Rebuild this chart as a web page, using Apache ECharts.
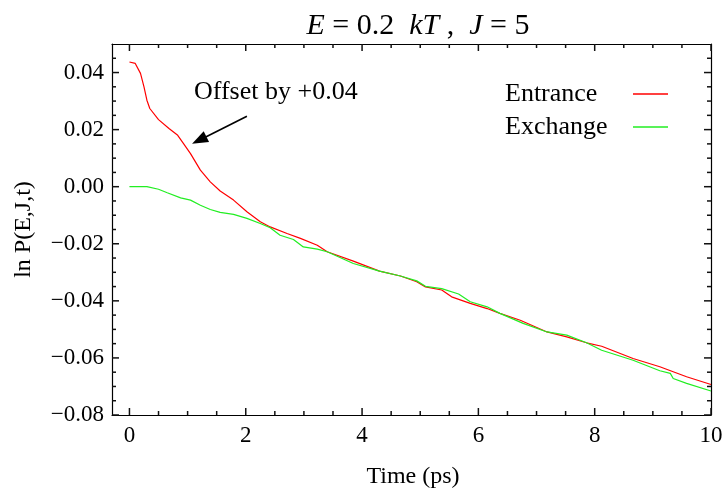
<!DOCTYPE html>
<html>
<head>
<meta charset="utf-8">
<title>ln P(E,J,t)</title>
<script src="https://cdn.jsdelivr.net/npm/echarts@6/dist/echarts.min.js"></script>
<style>
    html, body { margin: 0; padding: 0; background: #fff; }
    #chart { width: 723px; height: 489px; }
</style>
</head>
<body>
<div id="chart"></div>
<script>
// Entrance channel (curve shifted by +0.04)
const entranceT = [0, 0.1, 0.19, 0.25, 0.3, 0.35, 0.5, 0.68, 0.83, 0.93, 1.05, 1.22, 1.39, 1.56, 1.79, 2.02, 2.25, 2.42, 2.71, 2.94, 3.23, 3.4, 3.85, 4.3, 4.66, 4.94, 5.09, 5.37, 5.54, 5.86, 6.15, 6.37, 6.72, 7.18, 7.52, 7.86, 8.12, 8.66, 9.12, 9.58, 10];
const entranceY = [0.0437, 0.0432, 0.0397, 0.035, 0.0303, 0.0274, 0.0235, 0.0204, 0.018, 0.0151, 0.0116, 0.0058, 0.0017, -0.0015, -0.0047, -0.0088, -0.0123, -0.0141, -0.0164, -0.0181, -0.0205, -0.0228, -0.0261, -0.0296, -0.0313, -0.0333, -0.0351, -0.0362, -0.0386, -0.0409, -0.0427, -0.0444, -0.0468, -0.0509, -0.0526, -0.0547, -0.0559, -0.0602, -0.0631, -0.0666, -0.0693];

// Exchange channel
const exchangeT = [0, 0.3, 0.5, 0.65, 0.88, 1.05, 1.22, 1.39, 1.56, 1.79, 2.02, 2.25, 2.42, 2.59, 2.82, 2.99, 3.23, 3.4, 3.85, 4.3, 4.66, 4.94, 5.09, 5.37, 5.66, 5.86, 6.15, 6.37, 6.77, 7.18, 7.52, 7.86, 8.12, 8.66, 9.12, 9.3, 9.35, 9.58, 10];
const exchangeY = [0, 0, -0.0009, -0.0021, -0.0039, -0.0047, -0.0065, -0.008, -0.009, -0.0097, -0.0111, -0.0129, -0.0144, -0.017, -0.0185, -0.0211, -0.0219, -0.0228, -0.0269, -0.0296, -0.0313, -0.033, -0.0349, -0.0357, -0.0376, -0.0403, -0.0421, -0.0444, -0.0479, -0.0509, -0.052, -0.0547, -0.0573, -0.0608, -0.0645, -0.0654, -0.0672, -0.0689, -0.0716];

const seriesNames = ['Entrance', 'Exchange'];

// axis ranges and tick labels
const xRange = [-0.3, 10];
const yRange = [-0.08, 0.05];
const xTicks = [0, 2, 4, 6, 8, 10];
const yTicks = [-0.08, -0.06, -0.04, -0.02, 0, 0.02, 0.04];

// annotation arrow (data coords) and its text
const arrowFrom = [2.02, 0.0247];
const arrowTo = [1.2, 0.0163];
const noteText = 'Offset by +0.04';

const FONT = 'Liberation Serif';
const BLACK = '#000';
const MAJOR_LEN = 7;
const MINOR_LEN = 4;

// minor tick positions (every 0.5 on x, every 0.005 on y)
const xMinor = [];
for (let i = 1; i < 20; i++) {
    if (i % 4 !== 0) xMinor.push(i * 0.5);
}
const yMinor = [];
for (let i = -15; i < 10; i++) {
    if (i % 4 !== 0) yMinor.push(+(i * 0.005).toFixed(3));
}

function pairs(xs, ys) {
    return xs.map((x, i) => [x, ys[i]]);
}

function fmtY(v) {
    if (Math.abs(v) < 1e-9) return '0.00';
    return (v < 0 ? '\u2212' : '') + Math.abs(v).toFixed(2);
}

// tick marks: [kind (0 = x, 1 = y), value, length]
const tickData = []
    .concat(xTicks.map(v => [0, v, MAJOR_LEN]))
    .concat(xMinor.map(v => [0, v, MINOR_LEN]))
    .concat(yTicks.map(v => [1, v, MAJOR_LEN]))
    .concat(yMinor.map(v => [1, v, MINOR_LEN]));

// one tick pair (both sides of the frame), pointing inward;
// major x ticks also carry their label under the frame
function renderTick(params, api) {
    const kind = api.value(0);
    const v = api.value(1);
    const len = api.value(2);
    const style = { stroke: '#111', lineWidth: 1.5 };
    let p1, p2;
    if (kind === 0) {
        p1 = api.coord([v, yRange[0]]);
        p2 = api.coord([v, yRange[1]]);
        const children = [
            { type: 'line', shape: { x1: p1[0], y1: p1[1], x2: p1[0], y2: p1[1] - len }, style: style },
            { type: 'line', shape: { x1: p2[0], y1: p2[1], x2: p2[0], y2: p2[1] + len }, style: style }
        ];
        if (len === MAJOR_LEN) {
            children.push({
                type: 'text',
                x: p1[0],
                y: p1[1] + 9,
                style: {
                    text: String(v),
                    fill: BLACK,
                    fontFamily: FONT,
                    fontSize: 23,
                    align: 'center',
                    verticalAlign: 'top'
                }
            });
        }
        return { type: 'group', children: children };
    }
    p1 = api.coord([xRange[0], v]);
    p2 = api.coord([xRange[1], v]);
    return {
        type: 'group',
        children: [
            { type: 'line', shape: { x1: p1[0], y1: p1[1], x2: p1[0] + len, y2: p1[1] }, style: style },
            { type: 'line', shape: { x1: p2[0], y1: p2[1], x2: p2[0] - len, y2: p2[1] }, style: style }
        ]
    };
}

function frameAxis(pos, range, extra) {
    return Object.assign({
        type: 'value',
        position: pos,
        min: range[0],
        max: range[1],
        axisLine: { show: true, onZero: false, lineStyle: { color: BLACK, width: 1.2 } },
        axisTick: { show: false },
        axisLabel: { show: false },
        splitLine: { show: false }
    }, extra || {});
}

const chart = echarts.init(document.getElementById('chart'));

const option = {
    animation: false,
    backgroundColor: '#fff',
    title: {
        text: '{i|E} = 0.2  {i|kT} ,  {i|J} = 5',
        left: 413,
        top: 6,
        textAlign: 'center',
        textStyle: {
            fontFamily: FONT,
            fontSize: 30,
            fontWeight: 'normal',
            color: BLACK,
            rich: {
                i: { fontFamily: FONT, fontSize: 30, fontStyle: 'italic', color: BLACK }
            }
        }
    },
    legend: {
        orient: 'vertical',
        left: 505,
        top: 81,
        align: 'right',
        padding: 0,
        icon: 'rect',
        itemWidth: 35,
        itemHeight: 1.3,
        itemGap: 7,
        data: seriesNames,
        formatter: n => '{a|' + n + '}',
        textStyle: {
            fontFamily: FONT,
            fontSize: 26,
            color: BLACK,
            rich: {
                a: { width: 123, align: 'left', fontFamily: FONT, fontSize: 26, color: BLACK, lineHeight: 25 }
            }
        }
    },
    grid: { left: 112, right: 12, top: 44, bottom: 74 },
    xAxis: [
        frameAxis('bottom', xRange),
        frameAxis('top', xRange)
    ],
    yAxis: [
        frameAxis('left', yRange, {
            name: 'ln P(E,J,t)',
            nameLocation: 'middle',
            nameGap: 76,
            nameRotate: 90,
            nameTextStyle: { fontFamily: FONT, fontSize: 24, color: BLACK },
            axisLabel: {
                show: true,
                customValues: yTicks,
                margin: 8,
                fontFamily: FONT,
                fontSize: 23,
                color: BLACK,
                formatter: fmtY
            }
        }),
        frameAxis('right', yRange)
    ],
    graphic: [
        {
            type: 'text',
            left: 194,
            top: 79,
            style: {
                text: noteText,
                fontFamily: FONT,
                fontSize: 26,
                fill: BLACK
            }
        },
        {
            // x axis title, centred under the frame
            type: 'text',
            x: 413,
            y: 477,
            style: {
                text: 'Time (ps)',
                fontFamily: FONT,
                fontSize: 24,
                fill: BLACK,
                align: 'center',
                verticalAlign: 'middle'
            }
        }
    ],
    series: [
        {
            name: seriesNames[0],
            type: 'line',
            symbol: 'none',
            color: '#ff0000',
            lineStyle: { width: 1.2, color: '#ff0000' },
            data: pairs(entranceT, entranceY),
            markLine: {
                silent: true,
                animation: false,
                symbol: ['none', 'triangle'],
                symbolSize: [12, 16],
                label: { show: false },
                lineStyle: { color: BLACK, width: 1.6, type: 'solid' },
                data: [[
                    { coord: arrowFrom },
                    { coord: arrowTo }
                ]]
            }
        },
        {
            name: seriesNames[1],
            type: 'line',
            symbol: 'none',
            color: '#22ee22',
            lineStyle: { width: 1.2, color: '#22ee22' },
            data: pairs(exchangeT, exchangeY)
        },
        {
            // inward tick marks on all four sides + x tick labels
            type: 'custom',
            silent: true,
            clip: false,
            renderItem: renderTick,
            data: tickData
        }
    ]
};

chart.setOption(option);
</script>
</body>
</html>
